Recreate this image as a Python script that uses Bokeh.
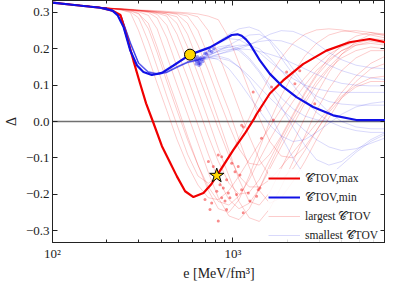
from bokeh.plotting import figure
from bokeh.models import (LogAxis, LinearAxis, FixedTicker, CustomJSTickFormatter,
                          Span, Legend, LegendItem)
from bokeh.embed import file_html
from bokeh.resources import INLINE

# ---------------- data ----------------
RED_E = [100, 136, 184, 215, 238, 259, 281, 306, 330, 360, 404, 450, 489, 543, 604,
         686, 760, 813, 900, 1005, 1164, 1300, 1350, 1601, 1897, 2445, 3293, 4426, 5714, 7000]
RED_D = [0.327, 0.320, 0.313, 0.305, 0.293, 0.231, 0.167, 0.104, 0.050, 0.000, -0.068,
         -0.115, -0.151, -0.192, -0.208, -0.197, -0.172, -0.149, -0.115, -0.078, -0.033,
         0.005, 0.020, 0.077, 0.113, 0.158, 0.195, 0.218, 0.227, 0.218]

BLUE_E = [100, 136, 184, 215, 230, 248, 270, 294, 319, 355, 404, 468, 578, 746, 900,
          984, 1060, 1117, 1180, 1242, 1410, 1601, 1858, 2249, 2781, 3587, 4830, 7000]
BLUE_D = [0.327, 0.320, 0.313, 0.305, 0.292, 0.259, 0.195, 0.154, 0.136, 0.128, 0.134,
          0.154, 0.184, 0.204, 0.227, 0.238, 0.240, 0.236, 0.226, 0.213, 0.168, 0.131,
          0.099, 0.067, 0.040, 0.017, 0.004, 0.004]

E_GRID = [100, 200, 240, 270, 300, 340, 380, 430, 490, 560, 640, 730, 830, 950, 1080,
          1230, 1400, 1600, 1850, 2150, 2500, 2900, 3400, 4000, 4800, 5800, 7000]

RED_FAINT = [
    [0.327, 0.312, 0.307, 0.300, 0.250, 0.175, 0.105, 0.030, -0.050, -0.120, -0.175, -0.210, -0.215, -0.190, -0.150, -0.105, -0.060, -0.015, 0.035, 0.080, 0.120, 0.155, 0.185, 0.205, 0.220, 0.228, 0.225],
    [0.327, 0.312, 0.308, 0.305, 0.298, 0.255, 0.190, 0.110, 0.030, -0.050, -0.120, -0.180, -0.220, -0.230, -0.205, -0.160, -0.105, -0.050, 0.005, 0.055, 0.100, 0.140, 0.170, 0.195, 0.210, 0.215, 0.210],
    [0.327, 0.312, 0.309, 0.307, 0.304, 0.300, 0.285, 0.230, 0.150, 0.070, -0.010, -0.090, -0.160, -0.215, -0.240, -0.225, -0.185, -0.130, -0.070, -0.010, 0.050, 0.100, 0.145, 0.175, 0.195, 0.205, 0.200],
    [0.327, 0.312, 0.309, 0.307, 0.305, 0.302, 0.298, 0.290, 0.240, 0.165, 0.085, 0.005, -0.075, -0.150, -0.220, -0.265, -0.275, -0.240, -0.180, -0.110, -0.040, 0.030, 0.090, 0.140, 0.175, 0.195, 0.195],
    [0.327, 0.312, 0.310, 0.308, 0.306, 0.304, 0.302, 0.300, 0.295, 0.270, 0.210, 0.140, 0.065, -0.010, -0.075, -0.115, -0.120, -0.090, -0.040, 0.020, 0.080, 0.130, 0.175, 0.210, 0.235, 0.245, 0.240],
    [0.327, 0.312, 0.310, 0.308, 0.306, 0.305, 0.303, 0.301, 0.299, 0.296, 0.288, 0.250, 0.185, 0.110, 0.035, -0.040, -0.105, -0.150, -0.160, -0.130, -0.080, -0.025, 0.030, 0.080, 0.125, 0.160, 0.180],
    [0.327, 0.312, 0.308, 0.304, 0.296, 0.270, 0.205, 0.125, 0.045, -0.040, -0.120, -0.190, -0.240, -0.250, -0.215, -0.150, -0.075, 0.000, 0.070, 0.130, 0.180, 0.215, 0.238, 0.248, 0.250, 0.245, 0.235],
    [0.327, 0.312, 0.309, 0.307, 0.305, 0.303, 0.300, 0.296, 0.270, 0.205, 0.130, 0.055, -0.020, -0.095, -0.150, -0.180, -0.180, -0.160, -0.125, -0.085, -0.045, -0.005, 0.035, 0.070, 0.100, 0.120, 0.125],
    [0.327, 0.312, 0.310, 0.308, 0.306, 0.304, 0.302, 0.300, 0.297, 0.290, 0.250, 0.180, 0.105, 0.030, -0.050, -0.125, -0.190, -0.225, -0.210, -0.165, -0.110, -0.050, 0.010, 0.065, 0.110, 0.145, 0.160],
    [0.327, 0.312, 0.307, 0.302, 0.285, 0.220, 0.150, 0.070, -0.010, -0.090, -0.150, -0.170, -0.150, -0.100, -0.045, 0.010, 0.070, 0.125, 0.175, 0.215, 0.240, 0.252, 0.255, 0.252, 0.245, 0.238, 0.230],
    [0.327, 0.312, 0.310, 0.309, 0.307, 0.306, 0.305, 0.303, 0.301, 0.299, 0.296, 0.290, 0.280, 0.230, 0.160, 0.085, 0.010, -0.055, -0.095, -0.100, -0.070, -0.025, 0.025, 0.065, 0.095, 0.110, 0.110],
    [0.327, 0.312, 0.309, 0.307, 0.305, 0.302, 0.295, 0.265, 0.195, 0.120, 0.040, -0.040, -0.110, -0.170, -0.200, -0.195, -0.160, -0.105, -0.045, 0.015, 0.075, 0.125, 0.165, 0.195, 0.215, 0.225, 0.220],
    [0.327, 0.312, 0.309, 0.306, 0.302, 0.292, 0.255, 0.180, 0.100, 0.020, -0.060, -0.140, -0.210, -0.260, -0.270, -0.240, -0.185, -0.120, -0.055, 0.005, 0.060, 0.110, 0.150, 0.185, 0.210, 0.220, 0.215],
    [0.327, 0.312, 0.310, 0.308, 0.306, 0.303, 0.300, 0.296, 0.288, 0.240, 0.165, 0.085, 0.005, -0.080, -0.160, -0.220, -0.230, -0.195, -0.130, -0.060, 0.010, 0.075, 0.135, 0.185, 0.220, 0.240, 0.240],
]

BLUE_FAINT = [
    [0.327, 0.312, 0.290, 0.215, 0.160, 0.135, 0.130, 0.135, 0.150, 0.163, 0.170, 0.190, 0.205, 0.210, 0.200, 0.175, 0.140, 0.100, 0.065, 0.035, 0.015, 0.005, 0.000, 0.000, 0.002, 0.005, 0.005],
    [0.327, 0.312, 0.292, 0.220, 0.163, 0.138, 0.133, 0.138, 0.152, 0.165, 0.168, 0.180, 0.195, 0.210, 0.225, 0.238, 0.240, 0.225, 0.190, 0.145, 0.100, 0.060, 0.025, 0.000, -0.015, -0.020, -0.020],
    [0.327, 0.312, 0.291, 0.218, 0.162, 0.137, 0.132, 0.137, 0.151, 0.164, 0.172, 0.195, 0.220, 0.240, 0.255, 0.260, 0.250, 0.220, 0.175, 0.130, 0.095, 0.070, 0.055, 0.048, 0.045, 0.045, 0.045],
    [0.327, 0.312, 0.289, 0.212, 0.158, 0.134, 0.129, 0.134, 0.148, 0.162, 0.170, 0.178, 0.170, 0.145, 0.110, 0.070, 0.030, -0.010, -0.040, -0.055, -0.050, -0.030, -0.005, 0.020, 0.040, 0.050, 0.055],
    [0.327, 0.312, 0.291, 0.217, 0.161, 0.136, 0.131, 0.136, 0.150, 0.163, 0.168, 0.175, 0.185, 0.195, 0.205, 0.213, 0.220, 0.224, 0.222, 0.212, 0.195, 0.175, 0.155, 0.140, 0.128, 0.120, 0.115],
    [0.327, 0.312, 0.290, 0.216, 0.160, 0.135, 0.130, 0.135, 0.149, 0.163, 0.171, 0.185, 0.200, 0.205, 0.195, 0.170, 0.135, 0.090, 0.040, -0.015, -0.065, -0.105, -0.120, -0.110, -0.080, -0.050, -0.030],
    [0.327, 0.312, 0.291, 0.219, 0.162, 0.137, 0.132, 0.137, 0.151, 0.164, 0.170, 0.178, 0.185, 0.192, 0.200, 0.210, 0.225, 0.240, 0.250, 0.248, 0.235, 0.215, 0.190, 0.170, 0.155, 0.148, 0.145],
    [0.327, 0.312, 0.290, 0.214, 0.159, 0.135, 0.130, 0.135, 0.149, 0.162, 0.172, 0.195, 0.215, 0.228, 0.225, 0.210, 0.190, 0.165, 0.140, 0.118, 0.100, 0.090, 0.083, 0.080, 0.080, 0.080, 0.080],
    [0.327, 0.312, 0.289, 0.213, 0.158, 0.134, 0.129, 0.134, 0.148, 0.161, 0.166, 0.172, 0.175, 0.168, 0.150, 0.125, 0.095, 0.065, 0.035, 0.005, -0.025, -0.050, -0.070, -0.080, -0.075, -0.060, -0.045],
    [0.327, 0.312, 0.290, 0.216, 0.160, 0.136, 0.131, 0.136, 0.150, 0.163, 0.168, 0.182, 0.195, 0.205, 0.210, 0.210, 0.200, 0.175, 0.140, 0.100, 0.060, 0.025, 0.000, -0.015, -0.025, -0.030, -0.030],
    [0.327, 0.312, 0.291, 0.218, 0.162, 0.137, 0.132, 0.137, 0.151, 0.164, 0.170, 0.183, 0.192, 0.198, 0.200, 0.198, 0.193, 0.185, 0.175, 0.160, 0.145, 0.130, 0.115, 0.105, 0.100, 0.098, 0.098],
    [0.327, 0.312, 0.290, 0.215, 0.160, 0.135, 0.130, 0.135, 0.149, 0.162, 0.168, 0.176, 0.180, 0.172, 0.150, 0.115, 0.070, 0.020, -0.040, -0.100, -0.150, -0.165, -0.150, -0.120, -0.085, -0.055, -0.035],
]

RED_DOTS_E = [731, 778, 829, 866, 984, 1026, 1069, 1093, 922, 847, 884, 813, 942, 866, 962,
              903, 1047, 1117, 1216, 1242, 1352, 1410, 922, 1140, 829, 746, 762, 700, 1294,
              1636, 1982, 2203, 2345, 1410, 1671, 1140, 2838, 1117, 1439, 1380]
RED_DOTS_D = [-0.110, -0.124, -0.092, -0.097, -0.115, -0.138, -0.124, -0.147, -0.160, -0.174,
              -0.183, -0.192, -0.197, -0.210, -0.210, -0.219, -0.201, -0.188, -0.197, -0.219,
              -0.206, -0.183, -0.242, -0.251, -0.274, -0.242, -0.224, -0.215, 0.081, 0.095,
              0.136, 0.104, 0.140, 0.031, 0.004, -0.015, 0.049, -0.010, -0.046, -0.188]

BLUE_DOTS_E = [620, 630, 640, 650, 660, 645, 635, 655, 670, 625, 680, 690, 615, 648, 662,
               700, 742, 784, 716, 762]
BLUE_DOTS_D = [0.170, 0.165, 0.172, 0.168, 0.175, 0.160, 0.178, 0.162, 0.170, 0.158, 0.165,
               0.175, 0.175, 0.155, 0.158, 0.188, 0.195, 0.200, 0.186, 0.192]

CIRCLE_E, CIRCLE_D = [578], [0.184]
STAR_E, STAR_D = [813], [-0.149]

X_TICKS = [100, 1000]
X_MINOR = [200, 300, 400, 500, 600, 700, 800, 900, 2000, 3000, 4000, 5000, 6000, 7000]
Y_TICKS = [-0.3, -0.2, -0.1, 0.0, 0.1, 0.2, 0.3]

LABELS = ["𝒞TOV,max", "𝒞TOV,min", "largest 𝒞TOV", "smallest 𝒞TOV"]

# ---------------- figure ----------------
FONT = "Liberation Serif"
RED = "#f00000"
BLUE = "#1010e6"
INK = "#222222"

p = figure(frame_width=333, frame_height=242, x_axis_type="log", x_range=(100, 7000),
           y_range=(-0.333, 0.333), output_backend="svg", toolbar_location=None,
           min_border_left=0, min_border_right=0, min_border_top=0, min_border_bottom=0)
p.grid.visible = False
p.outline_line_color = INK

xt = FixedTicker(ticks=X_TICKS, minor_ticks=X_MINOR)
yt = FixedTicker(ticks=Y_TICKS, minor_ticks=[])
yfmt = CustomJSTickFormatter(code="return (tick < -1e-9 ? '\u2212' : '') + Math.abs(tick).toFixed(1);")

p.xaxis.ticker = xt
p.xaxis.major_label_overrides = {100: "10²", 1000: "10³"}
p.yaxis.ticker = yt
p.yaxis.formatter = yfmt
p.xaxis.axis_label = "e [MeV/fm³]"
p.yaxis.axis_label = "Δ"

empty = CustomJSTickFormatter(code="return '';")
top = LogAxis(ticker=xt, formatter=empty, major_label_text_font_size="0px",
              major_label_standoff=0)
right = LinearAxis(ticker=yt, formatter=empty, major_label_text_font_size="0px",
                   major_label_standoff=0)
p.add_layout(top, "above")
p.add_layout(right, "right")

for ax in p.axis:
    ax.major_tick_in = 5
    ax.major_tick_out = 0
    ax.minor_tick_in = 3
    ax.minor_tick_out = 0
    ax.axis_line_color = INK
    ax.major_tick_line_color = INK
    ax.minor_tick_line_color = INK
    ax.major_label_text_font = FONT
    ax.major_label_text_color = INK
    ax.axis_label_text_font = FONT
    ax.axis_label_text_font_size = "14px"
    ax.axis_label_text_font_style = "normal"
    ax.axis_label_text_color = INK

for ax in (p.below[0], p.left[0]):
    ax.major_label_text_font_size = "13px"
p.below[0].major_label_standoff = 3
p.below[0].axis_label_standoff = 2
p.left[0].major_label_standoff = 3
p.left[0].axis_label_standoff = 4

p.add_layout(Span(location=0, dimension="width", line_color="#707070",
                  line_width=1.3, level="underlay"))

fr = p.multi_line([E_GRID] * len(RED_FAINT), RED_FAINT, line_color=RED,
                  line_alpha=0.2, line_width=1)
fb = p.multi_line([E_GRID] * len(BLUE_FAINT), BLUE_FAINT, line_color=BLUE,
                  line_alpha=0.16, line_width=1)

p.scatter(RED_DOTS_E, RED_DOTS_D, size=3, fill_color=RED, fill_alpha=0.45, line_color=None)
p.scatter(BLUE_DOTS_E, BLUE_DOTS_D, size=3.5, fill_color=BLUE, fill_alpha=0.4, line_color=None)

rl = p.line(RED_E, RED_D, line_color=RED, line_width=2.2)
bl = p.line(BLUE_E, BLUE_D, line_color=BLUE, line_width=2.2)

p.scatter(CIRCLE_E, CIRCLE_D, size=11, fill_color="#ffd700", line_color="black", line_width=1)
p.scatter(STAR_E, STAR_D, marker="star", size=15, fill_color="#ffd700", line_color="black",
          line_width=1)

legend = Legend(items=[LegendItem(label=LABELS[0], renderers=[rl]),
                       LegendItem(label=LABELS[1], renderers=[bl]),
                       LegendItem(label=LABELS[2], renderers=[fr]),
                       LegendItem(label=LABELS[3], renderers=[fb])],
                location=(216, -2), border_line_color=None,
                background_fill_alpha=0.85, label_text_font=FONT,
                label_text_font_size="11.5px", label_text_color=INK,
                glyph_width=32, glyph_height=18, label_height=18, label_standoff=5,
                spacing=1, padding=2, margin=0)
p.add_layout(legend)

open("out.html", "w").write(file_html(p, INLINE))
